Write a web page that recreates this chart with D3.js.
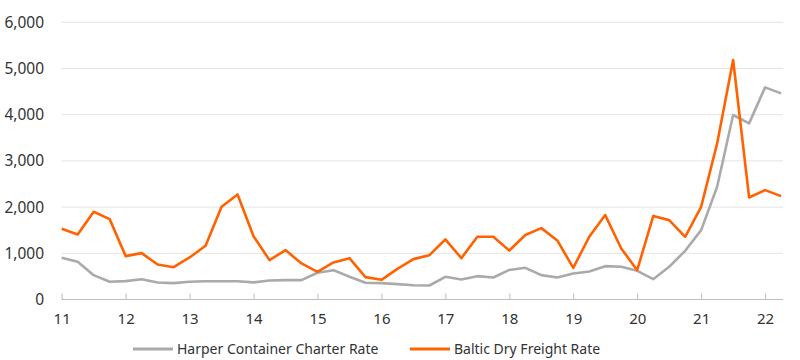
<!DOCTYPE html>
<html>
<head>
<meta charset="utf-8">
<script src="https://cdn.jsdelivr.net/npm/d3@7"></script>
<style>
  html, body { margin: 0; padding: 0; background: #fff; }
  svg { display: block; font-family: "Noto Sans", "Open Sans", sans-serif; }
</style>
</head>
<body>
<svg id="chart" width="800" height="360"></svg>
<script>
// Quarterly dates (year fraction, 2-digit year)
const periods = [11.0,11.25,11.5,11.75,12.0,12.25,12.5,12.75,13.0,13.25,13.5,13.75,
  14.0,14.25,14.5,14.75,15.0,15.25,15.5,15.75,16.0,16.25,16.5,16.75,
  17.0,17.25,17.5,17.75,18.0,18.25,18.5,18.75,19.0,19.25,19.5,19.75,
  20.0,20.25,20.5,20.75,21.0,21.25,21.5,21.75,22.0,22.25];

const harper = [903,816,527,383,397,440,368,354,383,396,396,396,
  370,410,419,419,578,635,491,361,354,332,310,303,
  491,433,505,477,640,686,527,477,563,606,722,708,
  621,440,708,1054,1502,2440,3993,3812,4592,4462];

const baltic = [1530,1408,1899,1740,939,1004,758,700,910,1162,2007,2274,
  1370,852,1069,780,599,801,895,484,426,664,874,960,
  1300,895,1357,1357,1060,1395,1545,1278,686,1357,1827,1105,
  635,1805,1718,1357,2007,3379,5184,2209,2368,2238];

const xTicks = [11,12,13,14,15,16,17,18,19,20,21,22];
const yTicks = [0,1000,2000,3000,4000,5000,6000];

const seriesNames = ["Harper Container Charter Rate", "Baltic Dry Freight Rate"];
const seriesColors = ["#aaaaaa", "#ff6200"];

const svg = d3.select("#chart");
const x = d3.scaleLinear().domain([11, 22.28]).range([61.7, 783]);
const y = d3.scaleLinear().domain([0, 6000]).range([299.5, 22.3]);

// gridlines
svg.append("g").selectAll("line").data(yTicks.filter(d => d > 0)).join("line")
  .attr("x1", x(11)).attr("x2", 783)
  .attr("y1", d => y(d)).attr("y2", d => y(d))
  .attr("stroke", "#e3e3e3").attr("stroke-width", 1);

// y labels
svg.append("g").selectAll("text").data(yTicks).join("text")
  .attr("x", 44).attr("y", d => y(d)).attr("dy", "0.35em")
  .attr("text-anchor", "end").attr("font-size", 15.5).attr("fill", "#333")
  .text(d => d3.format(",")(d));

// x axis
const xAxis = d3.axisBottom(x).tickValues(xTicks).tickSize(-6).tickPadding(14).tickFormat(d3.format("d"));
const gx = svg.append("g").attr("transform", `translate(0,${y(0)})`).call(xAxis);
gx.select(".domain").attr("stroke", "#bdbdbd").attr("d", `M${x(11)},0H783`);
gx.selectAll(".tick line").attr("stroke", "#bdbdbd");
gx.selectAll(".tick text").attr("font-size", 15).attr("fill", "#333")
  .attr("font-family", "\"Noto Sans\", sans-serif");

// lines
const line = d3.line().x((d, i) => x(periods[i])).y(d => y(d));
[harper, baltic].forEach((vals, k) => {
  svg.append("path").datum(vals)
    .attr("d", line)
    .attr("fill", "none")
    .attr("stroke", seriesColors[k])
    .attr("stroke-width", 2.6)
    .attr("stroke-linejoin", "round");
});

// legend
const legendX = [133, 410];
seriesNames.forEach((name, k) => {
  const g = svg.append("g").attr("transform", `translate(${legendX[k]},349)`);
  g.append("line").attr("x1", 0).attr("x2", 40).attr("y1", 0).attr("y2", 0)
    .attr("stroke", seriesColors[k]).attr("stroke-width", 3);
  g.append("text").attr("x", 44).attr("y", 0).attr("dy", "0.35em")
    .attr("font-size", 14).attr("fill", "#333").text(name);
});
</script>
</body>
</html>
